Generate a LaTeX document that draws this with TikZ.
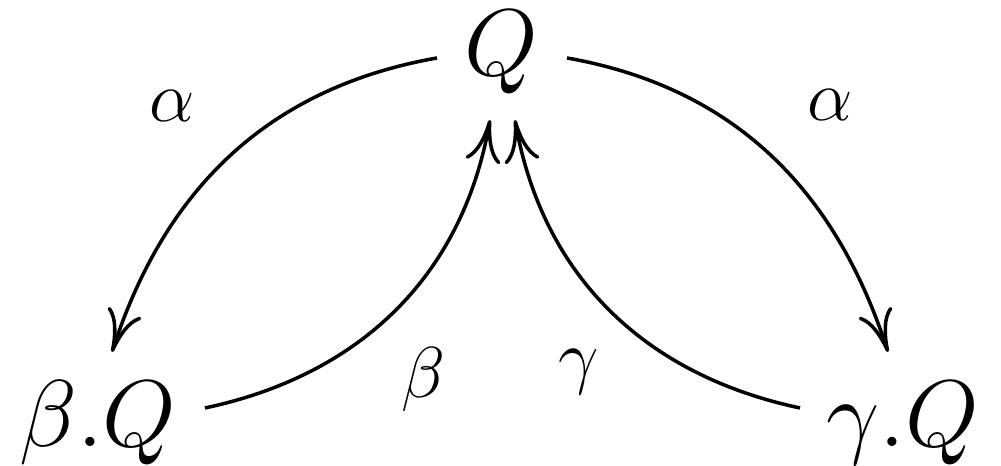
\RequirePackage{fix-cm}
\documentclass[tikz,border=0pt]{standalone}
\usetikzlibrary{arrows.meta}
\begin{document}
\begin{tikzpicture}[
  every node/.style={inner sep=0pt, anchor=base},
  obj/.style={font=\fontsize{27}{32}\selectfont},
  lbl/.style={font=\fontsize{20.5}{24}\selectfont},
  arr/.style={line width=1pt, -{To[length=12pt,width=10pt]}}
]
\useasboundingbox (0,0) rectangle (10.01,4.66);
\node[obj] (Q) at (5.01,3.90) {$Q$};
\node[obj] (BQ) at (0.98,0.19) {$\beta.Q$};
\node[obj] (GQ) at (9.03,0.19) {$\gamma.Q$};
\coordinate (Qw) at (4.37,4.08);
\coordinate (Qe) at (5.67,4.08);
\coordinate (Qbl) at (4.90,3.46);
\coordinate (Qbr) at (5.15,3.46);
\coordinate (Bt) at (1.12,1.14);
\coordinate (Gt) at (8.88,1.14);
\coordinate (Be) at (2.05,0.58);
\coordinate (Gw) at (8.00,0.58);
\draw[arr] (Qw) to[out=190,in=72] (Bt);
\draw[arr] (Be) to[out=12,in=260] (Qbl);
\draw[arr] (Gw) to[out=168,in=280] (Qbr);
\draw[arr] (Qe) to[out=-10,in=108] (Gt);
\node[lbl] (a1) at (1.72,3.44) {$\alpha$};
\node[lbl] (a2) at (8.30,3.45) {$\alpha$};
\node[lbl] (b) at (4.23,0.68) {$\beta$};
\node[lbl] (g) at (5.79,0.85) {$\gamma$};
\end{tikzpicture}
\end{document}
